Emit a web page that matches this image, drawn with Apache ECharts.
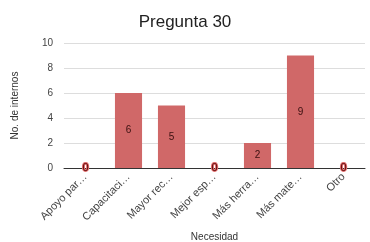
<!DOCTYPE html>
<html>
<head>
<meta charset="utf-8">
<script src="https://cdn.jsdelivr.net/npm/echarts@6/dist/echarts.min.js"></script>
<style>
  html, body { margin: 0; padding: 0; background: #fff; }
  #chart { width: 370px; height: 242px; }
</style>
</head>
<body>
<div id="chart"></div>
<script>
// datos
const categorias = ['Apoyo par…', 'Capacitaci…', 'Mayor rec…', 'Mejor esp…', 'Más herra…', 'Más mate…', 'Otro']
const internos = [0, 6, 5, 0, 2, 9, 0]
const yTicks = [0, 2, 4, 6, 8, 10]

const chart = echarts.init(document.getElementById('chart'))
const option = {
  animation: false,
  textStyle: { fontFamily: 'Liberation Sans, Arial, sans-serif' },
  title: {
    text: 'Pregunta 30',
    left: 'center',
    top: 9,
    textStyle: { fontSize: 17, fontWeight: 'normal', color: '#222' }
  },
  grid: { left: 64, right: 5, top: 43, bottom: 74, outerBoundsMode: 'none' },
  xAxis: {
    type: 'category',
    data: categorias,
    name: 'Necesidad',
    nameLocation: 'middle',
    nameGap: 64,
    nameTextStyle: { fontSize: 10, color: '#333' },
    axisLine: { lineStyle: { color: '#333', width: 1 } },
    axisTick: { show: false },
    axisLabel: { rotate: 45, fontSize: 11, color: '#444', margin: 7, interval: 0 }
  },
  yAxis: {
    type: 'value',
    min: yTicks[0],
    max: yTicks[yTicks.length - 1],
    interval: 2,
    name: 'No. de internos',
    nameLocation: 'middle',
    nameGap: 44,
    nameTextStyle: { fontSize: 10, color: '#333' },
    axisLine: { show: false },
    axisTick: { show: false },
    axisLabel: { fontSize: 10, color: '#444', margin: 11 },
    splitLine: { lineStyle: { color: '#ddd' } }
  },
  series: [{
    type: 'bar',
    data: internos,
    barWidth: '63%',
    itemStyle: { color: '#d06868' },
    label: {
      show: true,
      position: 'inside',
      fontSize: 10,
      color: '#3a1010',
      formatter: (p) => p.value === 0 ? '{z|0}' : String(p.value),
      rich: {
        z: { fontSize: 11, color: '#5a0c0c', textBorderColor: '#e06a6a', textBorderWidth: 2 }
      }
    }
  }]
}
chart.setOption(option)
</script>
</body>
</html>
